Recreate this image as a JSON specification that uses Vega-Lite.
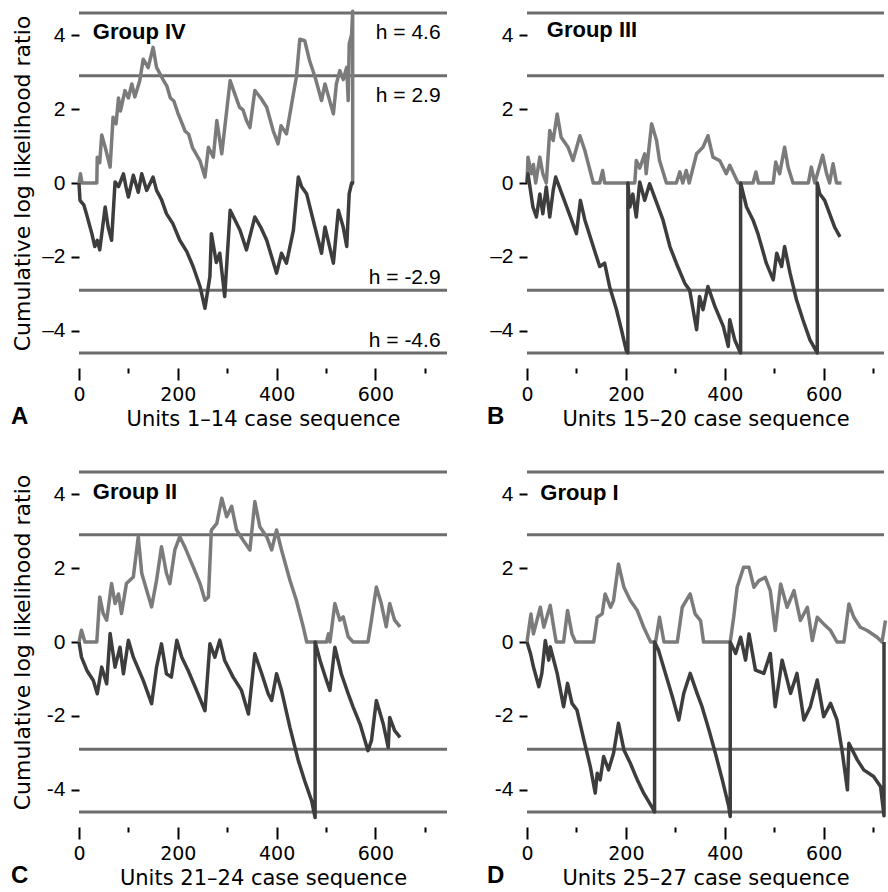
{
"$schema": "https://vega.github.io/schema/vega-lite/v6.json",
"background": "white",
"padding": {"left": 11, "top": 9, "right": 0, "bottom": 0},
"config": {"view": {"stroke": null}, "axisX": {"labelFlush": false}},
"datasets": {
"h": [{"h": 4.6, "t": "h = 4.6"}, {"h": 2.9, "t": "h = 2.9"}, {"h": -2.9, "t": "h = -2.9"}, {"h": -4.6, "t": "h = -4.6"}],
"cs": [
{"p":"A","s":"u","i":0,"x":0,"y":0},{"p":"A","s":"u","i":1,"x":3,"y":0.25},{"p":"A","s":"u","i":2,"x":6,"y":0},{"p":"A","s":"u","i":3,"x":36,"y":0},{"p":"A","s":"u","i":4,"x":37,"y":0.7},{"p":"A","s":"u","i":5,"x":42,"y":0.55},{"p":"A","s":"u","i":6,"x":46,"y":1.3},{"p":"A","s":"u","i":7,"x":53,"y":0.97},{"p":"A","s":"u","i":8,"x":63,"y":0.43},{"p":"A","s":"u","i":9,"x":69,"y":1.78},{"p":"A","s":"u","i":10,"x":75,"y":1.6},{"p":"A","s":"u","i":11,"x":80,"y":2.3},{"p":"A","s":"u","i":12,"x":84,"y":1.95},{"p":"A","s":"u","i":13,"x":93,"y":2.5},{"p":"A","s":"u","i":14,"x":100,"y":2.3},{"p":"A","s":"u","i":15,"x":107,"y":2.68},{"p":"A","s":"u","i":16,"x":113,"y":2.33},{"p":"A","s":"u","i":17,"x":123,"y":2.77},{"p":"A","s":"u","i":18,"x":130,"y":3.35},{"p":"A","s":"u","i":19,"x":140,"y":3.12},{"p":"A","s":"u","i":20,"x":150,"y":3.67},{"p":"A","s":"u","i":21,"x":157,"y":3.13},{"p":"A","s":"u","i":22,"x":170,"y":2.8},{"p":"A","s":"u","i":23,"x":178,"y":2.62},{"p":"A","s":"u","i":24,"x":185,"y":2.3},{"p":"A","s":"u","i":25,"x":192,"y":2.22},{"p":"A","s":"u","i":26,"x":200,"y":1.9},{"p":"A","s":"u","i":27,"x":215,"y":1.4},{"p":"A","s":"u","i":28,"x":222,"y":1.32},{"p":"A","s":"u","i":29,"x":230,"y":0.95},{"p":"A","s":"u","i":30,"x":245,"y":0.6},{"p":"A","s":"u","i":31,"x":255,"y":0.16},{"p":"A","s":"u","i":32,"x":262,"y":0.97},{"p":"A","s":"u","i":33,"x":272,"y":0.7},{"p":"A","s":"u","i":34,"x":279,"y":1.69},{"p":"A","s":"u","i":35,"x":289,"y":0.79},{"p":"A","s":"u","i":36,"x":306,"y":2.77},{"p":"A","s":"u","i":37,"x":313,"y":2.5},{"p":"A","s":"u","i":38,"x":325,"y":2.05},{"p":"A","s":"u","i":39,"x":332,"y":1.98},{"p":"A","s":"u","i":40,"x":339,"y":1.69},{"p":"A","s":"u","i":41,"x":346,"y":1.5},{"p":"A","s":"u","i":42,"x":356,"y":2.5},{"p":"A","s":"u","i":43,"x":368,"y":2.3},{"p":"A","s":"u","i":44,"x":380,"y":2.05},{"p":"A","s":"u","i":45,"x":393,"y":1.42},{"p":"A","s":"u","i":46,"x":403,"y":1.06},{"p":"A","s":"u","i":47,"x":409,"y":1.55},{"p":"A","s":"u","i":48,"x":420,"y":1.33},{"p":"A","s":"u","i":49,"x":434,"y":2.41},{"p":"A","s":"u","i":50,"x":440,"y":2.86},{"p":"A","s":"u","i":51,"x":447,"y":3.89},{"p":"A","s":"u","i":52,"x":457,"y":3.85},{"p":"A","s":"u","i":53,"x":467,"y":3.3},{"p":"A","s":"u","i":54,"x":478,"y":2.86},{"p":"A","s":"u","i":55,"x":491,"y":2.23},{"p":"A","s":"u","i":56,"x":498,"y":2.68},{"p":"A","s":"u","i":57,"x":515,"y":1.87},{"p":"A","s":"u","i":58,"x":521,"y":2.68},{"p":"A","s":"u","i":59,"x":528,"y":3.04},{"p":"A","s":"u","i":60,"x":535,"y":2.8},{"p":"A","s":"u","i":61,"x":542,"y":3.13},{"p":"A","s":"u","i":62,"x":545,"y":2.23},{"p":"A","s":"u","i":63,"x":547,"y":3.76},{"p":"A","s":"u","i":64,"x":552,"y":4.03},{"p":"A","s":"u","i":65,"x":554,"y":4.65},{"p":"A","s":"u","i":66,"x":554,"y":0},
{"p":"A","s":"l","i":0,"x":0,"y":0},{"p":"A","s":"l","i":1,"x":2,"y":-0.47},{"p":"A","s":"l","i":2,"x":10,"y":-0.6},{"p":"A","s":"l","i":3,"x":15,"y":-0.83},{"p":"A","s":"l","i":4,"x":26,"y":-1.37},{"p":"A","s":"l","i":5,"x":32,"y":-1.72},{"p":"A","s":"l","i":6,"x":37,"y":-1.55},{"p":"A","s":"l","i":7,"x":42,"y":-1.81},{"p":"A","s":"l","i":8,"x":53,"y":-0.65},{"p":"A","s":"l","i":9,"x":59,"y":-1.19},{"p":"A","s":"l","i":10,"x":66,"y":-1.55},{"p":"A","s":"l","i":11,"x":73,"y":0.03},{"p":"A","s":"l","i":12,"x":80,"y":-0.1},{"p":"A","s":"l","i":13,"x":90,"y":0.25},{"p":"A","s":"l","i":14,"x":95,"y":-0.1},{"p":"A","s":"l","i":15,"x":100,"y":-0.38},{"p":"A","s":"l","i":16,"x":110,"y":0.21},{"p":"A","s":"l","i":17,"x":120,"y":-0.25},{"p":"A","s":"l","i":18,"x":127,"y":0.25},{"p":"A","s":"l","i":19,"x":137,"y":-0.2},{"p":"A","s":"l","i":20,"x":150,"y":0.16},{"p":"A","s":"l","i":21,"x":157,"y":-0.2},{"p":"A","s":"l","i":22,"x":167,"y":-0.45},{"p":"A","s":"l","i":23,"x":177,"y":-0.83},{"p":"A","s":"l","i":24,"x":190,"y":-1.1},{"p":"A","s":"l","i":25,"x":204,"y":-1.55},{"p":"A","s":"l","i":26,"x":218,"y":-1.85},{"p":"A","s":"l","i":27,"x":231,"y":-2.26},{"p":"A","s":"l","i":28,"x":245,"y":-2.8},{"p":"A","s":"l","i":29,"x":255,"y":-3.39},{"p":"A","s":"l","i":30,"x":265,"y":-2.53},{"p":"A","s":"l","i":31,"x":268,"y":-1.37},{"p":"A","s":"l","i":32,"x":278,"y":-2.15},{"p":"A","s":"l","i":33,"x":285,"y":-1.9},{"p":"A","s":"l","i":34,"x":295,"y":-3.07},{"p":"A","s":"l","i":35,"x":306,"y":-0.74},{"p":"A","s":"l","i":36,"x":326,"y":-1.28},{"p":"A","s":"l","i":37,"x":339,"y":-1.81},{"p":"A","s":"l","i":38,"x":356,"y":-0.92},{"p":"A","s":"l","i":39,"x":368,"y":-1.2},{"p":"A","s":"l","i":40,"x":380,"y":-1.55},{"p":"A","s":"l","i":41,"x":400,"y":-2.44},{"p":"A","s":"l","i":42,"x":410,"y":-1.9},{"p":"A","s":"l","i":43,"x":420,"y":-2.17},{"p":"A","s":"l","i":44,"x":434,"y":-1.28},{"p":"A","s":"l","i":45,"x":444,"y":0.16},{"p":"A","s":"l","i":46,"x":451,"y":-0.11},{"p":"A","s":"l","i":47,"x":461,"y":-0.3},{"p":"A","s":"l","i":48,"x":474,"y":-1.0},{"p":"A","s":"l","i":49,"x":491,"y":-1.9},{"p":"A","s":"l","i":50,"x":498,"y":-1.19},{"p":"A","s":"l","i":51,"x":515,"y":-2.17},{"p":"A","s":"l","i":52,"x":525,"y":-0.74},{"p":"A","s":"l","i":53,"x":535,"y":-1.2},{"p":"A","s":"l","i":54,"x":542,"y":-1.72},{"p":"A","s":"l","i":55,"x":547,"y":-0.29},{"p":"A","s":"l","i":56,"x":552,"y":0},{"p":"A","s":"l","i":57,"x":557,"y":0},
{"p":"B","s":"u","i":0,"x":0,"y":0},{"p":"B","s":"u","i":1,"x":2,"y":0.7},{"p":"B","s":"u","i":2,"x":9,"y":0.25},{"p":"B","s":"u","i":3,"x":13,"y":0.5},{"p":"B","s":"u","i":4,"x":17.5,"y":0},{"p":"B","s":"u","i":5,"x":26,"y":0.7},{"p":"B","s":"u","i":6,"x":32,"y":0.25},{"p":"B","s":"u","i":7,"x":39,"y":0},{"p":"B","s":"u","i":8,"x":46,"y":1.42},{"p":"B","s":"u","i":9,"x":53,"y":1.15},{"p":"B","s":"u","i":10,"x":61,"y":1.87},{"p":"B","s":"u","i":11,"x":69,"y":1.24},{"p":"B","s":"u","i":12,"x":83,"y":0.97},{"p":"B","s":"u","i":13,"x":93,"y":0.61},{"p":"B","s":"u","i":14,"x":107,"y":1.28},{"p":"B","s":"u","i":15,"x":117,"y":0.88},{"p":"B","s":"u","i":16,"x":134,"y":0},{"p":"B","s":"u","i":17,"x":147,"y":0},{"p":"B","s":"u","i":18,"x":153,"y":0.34},{"p":"B","s":"u","i":19,"x":157,"y":0},{"p":"B","s":"u","i":20,"x":218,"y":0},{"p":"B","s":"u","i":21,"x":221,"y":0.61},{"p":"B","s":"u","i":22,"x":228,"y":0.4},{"p":"B","s":"u","i":23,"x":238,"y":0.79},{"p":"B","s":"u","i":24,"x":241,"y":0.25},{"p":"B","s":"u","i":25,"x":252,"y":1.6},{"p":"B","s":"u","i":26,"x":262,"y":1.15},{"p":"B","s":"u","i":27,"x":268,"y":0.61},{"p":"B","s":"u","i":28,"x":282,"y":0},{"p":"B","s":"u","i":29,"x":302,"y":0},{"p":"B","s":"u","i":30,"x":309,"y":0.3},{"p":"B","s":"u","i":31,"x":315,"y":0},{"p":"B","s":"u","i":32,"x":322,"y":0.34},{"p":"B","s":"u","i":33,"x":328,"y":0},{"p":"B","s":"u","i":34,"x":343,"y":0.79},{"p":"B","s":"u","i":35,"x":356,"y":0.97},{"p":"B","s":"u","i":36,"x":366,"y":1.28},{"p":"B","s":"u","i":37,"x":376,"y":0.7},{"p":"B","s":"u","i":38,"x":390,"y":0.6},{"p":"B","s":"u","i":39,"x":403,"y":0.25},{"p":"B","s":"u","i":40,"x":410,"y":0.48},{"p":"B","s":"u","i":41,"x":427,"y":0},{"p":"B","s":"u","i":42,"x":457,"y":0},{"p":"B","s":"u","i":43,"x":463,"y":0.3},{"p":"B","s":"u","i":44,"x":468,"y":0},{"p":"B","s":"u","i":45,"x":498,"y":0},{"p":"B","s":"u","i":46,"x":503,"y":0.57},{"p":"B","s":"u","i":47,"x":511,"y":0.25},{"p":"B","s":"u","i":48,"x":521,"y":0.97},{"p":"B","s":"u","i":49,"x":528,"y":0.43},{"p":"B","s":"u","i":50,"x":538,"y":0},{"p":"B","s":"u","i":51,"x":569,"y":0},{"p":"B","s":"u","i":52,"x":575,"y":0.43},{"p":"B","s":"u","i":53,"x":582,"y":0},{"p":"B","s":"u","i":54,"x":598,"y":0.75},{"p":"B","s":"u","i":55,"x":606,"y":0.25},{"p":"B","s":"u","i":56,"x":612,"y":0},{"p":"B","s":"u","i":57,"x":619,"y":0.52},{"p":"B","s":"u","i":58,"x":626,"y":0},{"p":"B","s":"u","i":59,"x":636,"y":0},
{"p":"B","s":"l","i":0,"x":0,"y":0},{"p":"B","s":"l","i":1,"x":2,"y":0.25},{"p":"B","s":"l","i":2,"x":12,"y":-0.65},{"p":"B","s":"l","i":3,"x":19,"y":-0.92},{"p":"B","s":"l","i":4,"x":26,"y":-0.3},{"p":"B","s":"l","i":5,"x":32,"y":-0.83},{"p":"B","s":"l","i":6,"x":39,"y":-0.11},{"p":"B","s":"l","i":7,"x":46,"y":-0.92},{"p":"B","s":"l","i":8,"x":53,"y":-0.2},{"p":"B","s":"l","i":9,"x":58,"y":0.16},{"p":"B","s":"l","i":10,"x":73,"y":-0.38},{"p":"B","s":"l","i":11,"x":90,"y":-1.0},{"p":"B","s":"l","i":12,"x":100,"y":-1.37},{"p":"B","s":"l","i":13,"x":108,"y":-0.47},{"p":"B","s":"l","i":14,"x":117,"y":-1.0},{"p":"B","s":"l","i":15,"x":134,"y":-1.72},{"p":"B","s":"l","i":16,"x":147,"y":-2.26},{"p":"B","s":"l","i":17,"x":157,"y":-2.17},{"p":"B","s":"l","i":18,"x":167,"y":-2.8},{"p":"B","s":"l","i":19,"x":181,"y":-3.43},{"p":"B","s":"l","i":20,"x":191,"y":-3.97},{"p":"B","s":"l","i":21,"x":201,"y":-4.55},{"p":"B","s":"l","i":22,"x":204,"y":-4.6},{"p":"B","s":"l","i":23,"x":204,"y":0},{"p":"B","s":"l","i":24,"x":208,"y":-0.65},{"p":"B","s":"l","i":25,"x":214,"y":-0.3},{"p":"B","s":"l","i":26,"x":221,"y":-0.92},{"p":"B","s":"l","i":27,"x":228,"y":0.03},{"p":"B","s":"l","i":28,"x":238,"y":-0.47},{"p":"B","s":"l","i":29,"x":248,"y":-0.02},{"p":"B","s":"l","i":30,"x":258,"y":-0.38},{"p":"B","s":"l","i":31,"x":275,"y":-1.0},{"p":"B","s":"l","i":32,"x":289,"y":-1.72},{"p":"B","s":"l","i":33,"x":302,"y":-2.17},{"p":"B","s":"l","i":34,"x":319,"y":-2.71},{"p":"B","s":"l","i":35,"x":329,"y":-2.9},{"p":"B","s":"l","i":36,"x":343,"y":-3.97},{"p":"B","s":"l","i":37,"x":349,"y":-3.07},{"p":"B","s":"l","i":38,"x":356,"y":-3.43},{"p":"B","s":"l","i":39,"x":366,"y":-2.8},{"p":"B","s":"l","i":40,"x":380,"y":-3.34},{"p":"B","s":"l","i":41,"x":397,"y":-3.88},{"p":"B","s":"l","i":42,"x":407,"y":-4.42},{"p":"B","s":"l","i":43,"x":410,"y":-3.7},{"p":"B","s":"l","i":44,"x":420,"y":-4.24},{"p":"B","s":"l","i":45,"x":430,"y":-4.55},{"p":"B","s":"l","i":46,"x":432,"y":-4.6},{"p":"B","s":"l","i":47,"x":432,"y":0},{"p":"B","s":"l","i":48,"x":444,"y":-0.65},{"p":"B","s":"l","i":49,"x":457,"y":-1.0},{"p":"B","s":"l","i":50,"x":467,"y":-1.37},{"p":"B","s":"l","i":51,"x":484,"y":-2.17},{"p":"B","s":"l","i":52,"x":498,"y":-2.62},{"p":"B","s":"l","i":53,"x":505,"y":-1.9},{"p":"B","s":"l","i":54,"x":515,"y":-2.26},{"p":"B","s":"l","i":55,"x":521,"y":-1.72},{"p":"B","s":"l","i":56,"x":532,"y":-2.44},{"p":"B","s":"l","i":57,"x":545,"y":-3.16},{"p":"B","s":"l","i":58,"x":558,"y":-3.7},{"p":"B","s":"l","i":59,"x":572,"y":-4.24},{"p":"B","s":"l","i":60,"x":585,"y":-4.55},{"p":"B","s":"l","i":61,"x":587,"y":-4.6},{"p":"B","s":"l","i":62,"x":587,"y":0},{"p":"B","s":"l","i":63,"x":592,"y":-0.29},{"p":"B","s":"l","i":64,"x":602,"y":-0.47},{"p":"B","s":"l","i":65,"x":612,"y":-0.83},{"p":"B","s":"l","i":66,"x":622,"y":-1.19},{"p":"B","s":"l","i":67,"x":633,"y":-1.46},
{"p":"C","s":"u","i":0,"x":0,"y":0},{"p":"C","s":"u","i":1,"x":5,"y":0.32},{"p":"C","s":"u","i":2,"x":12,"y":0},{"p":"C","s":"u","i":3,"x":36,"y":0},{"p":"C","s":"u","i":4,"x":42,"y":1.22},{"p":"C","s":"u","i":5,"x":49,"y":0.77},{"p":"C","s":"u","i":6,"x":56,"y":0.59},{"p":"C","s":"u","i":7,"x":66,"y":1.58},{"p":"C","s":"u","i":8,"x":73,"y":1.04},{"p":"C","s":"u","i":9,"x":80,"y":1.3},{"p":"C","s":"u","i":10,"x":86,"y":0.77},{"p":"C","s":"u","i":11,"x":96,"y":1.58},{"p":"C","s":"u","i":12,"x":110,"y":1.76},{"p":"C","s":"u","i":13,"x":120,"y":2.85},{"p":"C","s":"u","i":14,"x":127,"y":1.86},{"p":"C","s":"u","i":15,"x":137,"y":1.4},{"p":"C","s":"u","i":16,"x":147,"y":0.95},{"p":"C","s":"u","i":17,"x":157,"y":1.67},{"p":"C","s":"u","i":18,"x":167,"y":2.58},{"p":"C","s":"u","i":19,"x":177,"y":1.86},{"p":"C","s":"u","i":20,"x":184,"y":1.58},{"p":"C","s":"u","i":21,"x":194,"y":2.49},{"p":"C","s":"u","i":22,"x":204,"y":2.85},{"p":"C","s":"u","i":23,"x":214,"y":2.58},{"p":"C","s":"u","i":24,"x":231,"y":2.04},{"p":"C","s":"u","i":25,"x":245,"y":1.58},{"p":"C","s":"u","i":26,"x":255,"y":1.13},{"p":"C","s":"u","i":27,"x":262,"y":1.22},{"p":"C","s":"u","i":28,"x":268,"y":3.03},{"p":"C","s":"u","i":29,"x":279,"y":3.21},{"p":"C","s":"u","i":30,"x":289,"y":3.89},{"p":"C","s":"u","i":31,"x":299,"y":3.39},{"p":"C","s":"u","i":32,"x":309,"y":3.67},{"p":"C","s":"u","i":33,"x":319,"y":3.03},{"p":"C","s":"u","i":34,"x":332,"y":2.76},{"p":"C","s":"u","i":35,"x":346,"y":2.49},{"p":"C","s":"u","i":36,"x":356,"y":3.8},{"p":"C","s":"u","i":37,"x":366,"y":3.12},{"p":"C","s":"u","i":38,"x":380,"y":2.85},{"p":"C","s":"u","i":39,"x":390,"y":2.49},{"p":"C","s":"u","i":40,"x":400,"y":3.03},{"p":"C","s":"u","i":41,"x":410,"y":2.49},{"p":"C","s":"u","i":42,"x":427,"y":1.67},{"p":"C","s":"u","i":43,"x":440,"y":1.13},{"p":"C","s":"u","i":44,"x":454,"y":0.41},{"p":"C","s":"u","i":45,"x":461,"y":0},{"p":"C","s":"u","i":46,"x":501,"y":0},{"p":"C","s":"u","i":47,"x":505,"y":0.22},{"p":"C","s":"u","i":48,"x":508,"y":0},{"p":"C","s":"u","i":49,"x":518,"y":1.04},{"p":"C","s":"u","i":50,"x":528,"y":0.59},{"p":"C","s":"u","i":51,"x":535,"y":0.68},{"p":"C","s":"u","i":52,"x":545,"y":0.14},{"p":"C","s":"u","i":53,"x":555,"y":0},{"p":"C","s":"u","i":54,"x":585,"y":0},{"p":"C","s":"u","i":55,"x":592,"y":0.59},{"p":"C","s":"u","i":56,"x":602,"y":1.49},{"p":"C","s":"u","i":57,"x":612,"y":1.04},{"p":"C","s":"u","i":58,"x":622,"y":0.41},{"p":"C","s":"u","i":59,"x":629,"y":1.04},{"p":"C","s":"u","i":60,"x":639,"y":0.59},{"p":"C","s":"u","i":61,"x":650,"y":0.41},
{"p":"C","s":"l","i":0,"x":0,"y":0},{"p":"C","s":"l","i":1,"x":5,"y":-0.41},{"p":"C","s":"l","i":2,"x":16,"y":-0.77},{"p":"C","s":"l","i":3,"x":29,"y":-1.04},{"p":"C","s":"l","i":4,"x":37,"y":-1.4},{"p":"C","s":"l","i":5,"x":46,"y":-0.68},{"p":"C","s":"l","i":6,"x":56,"y":-1.13},{"p":"C","s":"l","i":7,"x":63,"y":0.23},{"p":"C","s":"l","i":8,"x":73,"y":-0.68},{"p":"C","s":"l","i":9,"x":83,"y":-0.14},{"p":"C","s":"l","i":10,"x":90,"y":-0.86},{"p":"C","s":"l","i":11,"x":100,"y":0.05},{"p":"C","s":"l","i":12,"x":110,"y":-0.41},{"p":"C","s":"l","i":13,"x":130,"y":-1.04},{"p":"C","s":"l","i":14,"x":147,"y":-1.67},{"p":"C","s":"l","i":15,"x":157,"y":-0.68},{"p":"C","s":"l","i":16,"x":167,"y":-0.05},{"p":"C","s":"l","i":17,"x":177,"y":-0.86},{"p":"C","s":"l","i":18,"x":187,"y":-0.95},{"p":"C","s":"l","i":19,"x":198,"y":0.05},{"p":"C","s":"l","i":20,"x":208,"y":-0.41},{"p":"C","s":"l","i":21,"x":221,"y":-0.77},{"p":"C","s":"l","i":22,"x":238,"y":-1.31},{"p":"C","s":"l","i":23,"x":255,"y":-1.86},{"p":"C","s":"l","i":24,"x":265,"y":-0.05},{"p":"C","s":"l","i":25,"x":275,"y":-0.41},{"p":"C","s":"l","i":26,"x":285,"y":0.05},{"p":"C","s":"l","i":27,"x":295,"y":-0.5},{"p":"C","s":"l","i":28,"x":312,"y":-0.95},{"p":"C","s":"l","i":29,"x":329,"y":-1.31},{"p":"C","s":"l","i":30,"x":343,"y":-1.95},{"p":"C","s":"l","i":31,"x":356,"y":-0.32},{"p":"C","s":"l","i":32,"x":370,"y":-0.86},{"p":"C","s":"l","i":33,"x":383,"y":-1.4},{"p":"C","s":"l","i":34,"x":390,"y":-1.58},{"p":"C","s":"l","i":35,"x":400,"y":-0.86},{"p":"C","s":"l","i":36,"x":410,"y":-1.31},{"p":"C","s":"l","i":37,"x":427,"y":-2.31},{"p":"C","s":"l","i":38,"x":444,"y":-3.21},{"p":"C","s":"l","i":39,"x":457,"y":-3.76},{"p":"C","s":"l","i":40,"x":471,"y":-4.3},{"p":"C","s":"l","i":41,"x":478,"y":-4.75},{"p":"C","s":"l","i":42,"x":478,"y":0},{"p":"C","s":"l","i":43,"x":488,"y":-0.5},{"p":"C","s":"l","i":44,"x":501,"y":-1.04},{"p":"C","s":"l","i":45,"x":508,"y":-1.31},{"p":"C","s":"l","i":46,"x":518,"y":-0.14},{"p":"C","s":"l","i":47,"x":531,"y":-0.86},{"p":"C","s":"l","i":48,"x":545,"y":-1.4},{"p":"C","s":"l","i":49,"x":555,"y":-1.76},{"p":"C","s":"l","i":50,"x":569,"y":-2.22},{"p":"C","s":"l","i":51,"x":585,"y":-2.94},{"p":"C","s":"l","i":52,"x":592,"y":-2.67},{"p":"C","s":"l","i":53,"x":602,"y":-1.58},{"p":"C","s":"l","i":54,"x":616,"y":-2.22},{"p":"C","s":"l","i":55,"x":626,"y":-2.85},{"p":"C","s":"l","i":56,"x":629,"y":-2.04},{"p":"C","s":"l","i":57,"x":639,"y":-2.4},{"p":"C","s":"l","i":58,"x":650,"y":-2.58},
{"p":"D","s":"u","i":0,"x":0,"y":0},{"p":"D","s":"u","i":1,"x":8,"y":0.76},{"p":"D","s":"u","i":2,"x":13,"y":0.22},{"p":"D","s":"u","i":3,"x":20,"y":0.58},{"p":"D","s":"u","i":4,"x":27,"y":0.94},{"p":"D","s":"u","i":5,"x":34,"y":0.4},{"p":"D","s":"u","i":6,"x":47,"y":0.99},{"p":"D","s":"u","i":7,"x":54,"y":0.4},{"p":"D","s":"u","i":8,"x":59,"y":0},{"p":"D","s":"u","i":9,"x":74,"y":0},{"p":"D","s":"u","i":10,"x":82,"y":0.85},{"p":"D","s":"u","i":11,"x":91,"y":0.22},{"p":"D","s":"u","i":12,"x":98,"y":0},{"p":"D","s":"u","i":13,"x":135,"y":0},{"p":"D","s":"u","i":14,"x":142,"y":0.67},{"p":"D","s":"u","i":15,"x":152,"y":0.76},{"p":"D","s":"u","i":16,"x":158,"y":1.3},{"p":"D","s":"u","i":17,"x":169,"y":0.94},{"p":"D","s":"u","i":18,"x":175,"y":1.12},{"p":"D","s":"u","i":19,"x":185,"y":2.11},{"p":"D","s":"u","i":20,"x":196,"y":1.48},{"p":"D","s":"u","i":21,"x":209,"y":1.12},{"p":"D","s":"u","i":22,"x":223,"y":0.85},{"p":"D","s":"u","i":23,"x":236,"y":0.4},{"p":"D","s":"u","i":24,"x":250,"y":0},{"p":"D","s":"u","i":25,"x":260,"y":0},{"p":"D","s":"u","i":26,"x":268,"y":0.67},{"p":"D","s":"u","i":27,"x":277,"y":0},{"p":"D","s":"u","i":28,"x":304,"y":0},{"p":"D","s":"u","i":29,"x":314,"y":0.94},{"p":"D","s":"u","i":30,"x":330,"y":1.3},{"p":"D","s":"u","i":31,"x":340,"y":0.76},{"p":"D","s":"u","i":32,"x":351,"y":0.58},{"p":"D","s":"u","i":33,"x":357,"y":0},{"p":"D","s":"u","i":34,"x":411,"y":0},{"p":"D","s":"u","i":35,"x":418,"y":0.67},{"p":"D","s":"u","i":36,"x":425,"y":1.48},{"p":"D","s":"u","i":37,"x":438,"y":2.02},{"p":"D","s":"u","i":38,"x":449,"y":2.02},{"p":"D","s":"u","i":39,"x":459,"y":1.48},{"p":"D","s":"u","i":40,"x":469,"y":1.66},{"p":"D","s":"u","i":41,"x":482,"y":1.75},{"p":"D","s":"u","i":42,"x":492,"y":1.39},{"p":"D","s":"u","i":43,"x":502,"y":0.31},{"p":"D","s":"u","i":44,"x":513,"y":1.57},{"p":"D","s":"u","i":45,"x":526,"y":0.94},{"p":"D","s":"u","i":46,"x":540,"y":1.39},{"p":"D","s":"u","i":47,"x":553,"y":0.58},{"p":"D","s":"u","i":48,"x":567,"y":0.94},{"p":"D","s":"u","i":49,"x":577,"y":0.04},{"p":"D","s":"u","i":50,"x":587,"y":0.67},{"p":"D","s":"u","i":51,"x":600,"y":0.49},{"p":"D","s":"u","i":52,"x":614,"y":0.31},{"p":"D","s":"u","i":53,"x":627,"y":0},{"p":"D","s":"u","i":54,"x":641,"y":0},{"p":"D","s":"u","i":55,"x":651,"y":1.03},{"p":"D","s":"u","i":56,"x":661,"y":0.67},{"p":"D","s":"u","i":57,"x":674,"y":0.4},{"p":"D","s":"u","i":58,"x":688,"y":0.31},{"p":"D","s":"u","i":59,"x":708,"y":0.13},{"p":"D","s":"u","i":60,"x":718,"y":0},{"p":"D","s":"u","i":61,"x":725,"y":0.58},
{"p":"D","s":"l","i":0,"x":0,"y":0},{"p":"D","s":"l","i":1,"x":7,"y":-0.31},{"p":"D","s":"l","i":2,"x":13,"y":-0.67},{"p":"D","s":"l","i":3,"x":24,"y":-1.21},{"p":"D","s":"l","i":4,"x":30,"y":-0.85},{"p":"D","s":"l","i":5,"x":37,"y":0.04},{"p":"D","s":"l","i":6,"x":44,"y":-0.49},{"p":"D","s":"l","i":7,"x":47,"y":-0.13},{"p":"D","s":"l","i":8,"x":61,"y":-0.85},{"p":"D","s":"l","i":9,"x":74,"y":-1.75},{"p":"D","s":"l","i":10,"x":82,"y":-1.12},{"p":"D","s":"l","i":11,"x":91,"y":-1.66},{"p":"D","s":"l","i":12,"x":101,"y":-1.84},{"p":"D","s":"l","i":13,"x":115,"y":-2.65},{"p":"D","s":"l","i":14,"x":128,"y":-3.37},{"p":"D","s":"l","i":15,"x":138,"y":-4.09},{"p":"D","s":"l","i":16,"x":142,"y":-3.55},{"p":"D","s":"l","i":17,"x":148,"y":-3.73},{"p":"D","s":"l","i":18,"x":155,"y":-3.1},{"p":"D","s":"l","i":19,"x":165,"y":-3.46},{"p":"D","s":"l","i":20,"x":175,"y":-3.01},{"p":"D","s":"l","i":21,"x":185,"y":-2.2},{"p":"D","s":"l","i":22,"x":196,"y":-2.92},{"p":"D","s":"l","i":23,"x":209,"y":-3.28},{"p":"D","s":"l","i":24,"x":223,"y":-3.73},{"p":"D","s":"l","i":25,"x":236,"y":-4.09},{"p":"D","s":"l","i":26,"x":256,"y":-4.54},{"p":"D","s":"l","i":27,"x":258,"y":-4.6},{"p":"D","s":"l","i":28,"x":258,"y":0},{"p":"D","s":"l","i":29,"x":266,"y":-0.22},{"p":"D","s":"l","i":30,"x":280,"y":-0.85},{"p":"D","s":"l","i":31,"x":294,"y":-1.48},{"p":"D","s":"l","i":32,"x":307,"y":-2.11},{"p":"D","s":"l","i":33,"x":317,"y":-1.39},{"p":"D","s":"l","i":34,"x":330,"y":-0.85},{"p":"D","s":"l","i":35,"x":344,"y":-1.39},{"p":"D","s":"l","i":36,"x":354,"y":-1.75},{"p":"D","s":"l","i":37,"x":368,"y":-2.38},{"p":"D","s":"l","i":38,"x":381,"y":-3.01},{"p":"D","s":"l","i":39,"x":395,"y":-3.73},{"p":"D","s":"l","i":40,"x":408,"y":-4.45},{"p":"D","s":"l","i":41,"x":411,"y":-4.72},{"p":"D","s":"l","i":42,"x":411,"y":0},{"p":"D","s":"l","i":43,"x":422,"y":-0.31},{"p":"D","s":"l","i":44,"x":432,"y":0.13},{"p":"D","s":"l","i":45,"x":442,"y":-0.49},{"p":"D","s":"l","i":46,"x":449,"y":0.22},{"p":"D","s":"l","i":47,"x":462,"y":-0.76},{"p":"D","s":"l","i":48,"x":479,"y":-0.85},{"p":"D","s":"l","i":49,"x":492,"y":-0.31},{"p":"D","s":"l","i":50,"x":502,"y":-1.75},{"p":"D","s":"l","i":51,"x":516,"y":-0.49},{"p":"D","s":"l","i":52,"x":533,"y":-1.39},{"p":"D","s":"l","i":53,"x":546,"y":-0.85},{"p":"D","s":"l","i":54,"x":560,"y":-2.11},{"p":"D","s":"l","i":55,"x":573,"y":-1.75},{"p":"D","s":"l","i":56,"x":587,"y":-1.03},{"p":"D","s":"l","i":57,"x":600,"y":-2.02},{"p":"D","s":"l","i":58,"x":614,"y":-1.66},{"p":"D","s":"l","i":59,"x":627,"y":-2.11},{"p":"D","s":"l","i":60,"x":637,"y":-2.92},{"p":"D","s":"l","i":61,"x":648,"y":-4.0},{"p":"D","s":"l","i":62,"x":651,"y":-2.74},{"p":"D","s":"l","i":63,"x":668,"y":-3.19},{"p":"D","s":"l","i":64,"x":681,"y":-3.46},{"p":"D","s":"l","i":65,"x":701,"y":-3.64},{"p":"D","s":"l","i":66,"x":715,"y":-3.91},{"p":"D","s":"l","i":67,"x":722,"y":-4.7},{"p":"D","s":"l","i":68,"x":722,"y":0}
]
},
"columns": 2,
"align": "each",
"spacing": {"row": 41, "column": 38},
"concat": [
{
"width": 368, "height": 340,
"title": {"text": "A", "orient": "bottom", "anchor": "start", "frame": "bounds", "font": "Liberation Sans", "fontSize": 24, "fontWeight": "bold", "color": "#000", "offset": -24},
"layer": [
{"data": {"name": "h"}, "mark": {"type": "rule", "color": "#6d6d6d", "strokeWidth": 3},
 "encoding": {"y": {"field": "h", "type": "quantitative", "scale": {"domain": [-4.6, 4.6], "nice": false, "zero": false},
   "axis": {"values": [-4,-2,0,2,4], "labelExpr": "datum.value < 0 ? '–' + (-datum.value) : '' + datum.value", "domain": false, "grid": false, "tickSize": 8, "tickWidth": 2, "tickColor": "#000", "labelFont": "Liberation Sans", "labelFontSize": 21, "labelColor": "#000", "labelPadding": 6, "minExtent": 40, "maxExtent": 40, "title": "Cumulative log likelihood ratio", "titleFont": "DejaVu Sans", "titleFontSize": 22, "titleFontWeight": "normal", "titleColor": "#000", "titlePadding": 5}}}},
{"data": {"name": "cs"}, "transform": [{"filter": "datum.p === 'A'"}],
 "mark": {"type": "line", "strokeWidth": 3.5, "strokeJoin": "round"},
 "encoding": {
  "x": {"field": "x", "type": "quantitative", "scale": {"domain": [0, 745], "nice": false, "zero": false},
   "axis": {"values": [0,100,200,300,400,500,600,700], "labelExpr": "datum.value % 200 === 0 ? datum.label : ''", "labelFlush": false, "domain": false, "grid": false, "offset": 15, "tickSize": {"condition": {"test": "datum.value % 200 === 0", "value": 12}, "value": 5}, "tickColor": "#000", "tickWidth": 2, "labelFont": "DejaVu Sans", "labelFontSize": 19, "labelColor": "#000", "labelPadding": 5, "title": "Units 1–14 case sequence", "titleFont": "DejaVu Sans", "titleFontSize": 21, "titleFontWeight": "normal", "titleColor": "#000", "titlePadding": 4}},
  "y": {"field": "y", "type": "quantitative"},
  "color": {"field": "s", "type": "nominal", "scale": {"domain": ["u", "l"], "range": ["#7b7b7b", "#3d3d3d"]}, "legend": null},
  "order": {"field": "i", "type": "quantitative"}}},
{"data": {"values": [{}]}, "mark": {"type": "text", "text": "Group IV", "font": "Liberation Sans", "fontSize": 22, "fontWeight": "bold", "align": "left", "baseline": "alphabetic", "color": "#000"},
 "encoding": {"x": {"datum": 28, "type": "quantitative"}, "y": {"datum": 3.9, "type": "quantitative"}}},
{"data": {"name": "h"}, "transform": [{"filter": "datum.h > 0"}], "mark": {"type": "text", "font": "Liberation Sans", "fontSize": 21, "align": "right", "baseline": "top", "dy": 9, "color": "#000"},
 "encoding": {"x": {"datum": 732, "type": "quantitative"}, "y": {"field": "h", "type": "quantitative"}, "text": {"field": "t"}}},
{"data": {"name": "h"}, "transform": [{"filter": "datum.h < 0"}], "mark": {"type": "text", "font": "Liberation Sans", "fontSize": 21, "align": "right", "baseline": "alphabetic", "dy": -6, "color": "#000"},
 "encoding": {"x": {"datum": 732, "type": "quantitative"}, "y": {"field": "h", "type": "quantitative"}, "text": {"field": "t"}}}
]
},
{
"width": 357, "height": 340,
"title": {"text": "B", "orient": "bottom", "anchor": "start", "frame": "bounds", "font": "Liberation Sans", "fontSize": 24, "fontWeight": "bold", "color": "#000", "offset": -24},
"layer": [
{"data": {"name": "h"}, "mark": {"type": "rule", "color": "#6d6d6d", "strokeWidth": 3},
 "encoding": {"y": {"field": "h", "type": "quantitative", "scale": {"domain": [-4.6, 4.6], "nice": false, "zero": false},
   "axis": {"values": [-4,-2,0,2,4], "labelExpr": "datum.value < 0 ? '–' + (-datum.value) : '' + datum.value", "domain": false, "grid": false, "tickSize": 8, "tickWidth": 2, "tickColor": "#000", "labelFont": "Liberation Sans", "labelFontSize": 21, "labelColor": "#000", "labelPadding": 6, "minExtent": 40, "maxExtent": 40, "title": null}}}},
{"data": {"name": "cs"}, "transform": [{"filter": "datum.p === 'B'"}],
 "mark": {"type": "line", "strokeWidth": 3.5, "strokeJoin": "round"},
 "encoding": {
  "x": {"field": "x", "type": "quantitative", "scale": {"domain": [0, 722], "nice": false, "zero": false},
   "axis": {"values": [0,100,200,300,400,500,600,700], "labelExpr": "datum.value % 200 === 0 ? datum.label : ''", "labelFlush": false, "domain": false, "grid": false, "offset": 15, "tickSize": {"condition": {"test": "datum.value % 200 === 0", "value": 12}, "value": 5}, "tickColor": "#000", "tickWidth": 2, "labelFont": "DejaVu Sans", "labelFontSize": 19, "labelColor": "#000", "labelPadding": 5, "title": "Units 15–20 case sequence", "titleFont": "DejaVu Sans", "titleFontSize": 21, "titleFontWeight": "normal", "titleColor": "#000", "titlePadding": 4}},
  "y": {"field": "y", "type": "quantitative"},
  "color": {"field": "s", "type": "nominal", "scale": {"domain": ["u", "l"], "range": ["#7b7b7b", "#3d3d3d"]}, "legend": null},
  "order": {"field": "i", "type": "quantitative"}}},
{"data": {"values": [{}]}, "mark": {"type": "text", "text": "Group III", "font": "Liberation Sans", "fontSize": 22, "fontWeight": "bold", "align": "left", "baseline": "alphabetic", "color": "#000"},
 "encoding": {"x": {"datum": 40, "type": "quantitative"}, "y": {"datum": 3.95, "type": "quantitative"}}}
]
},
{
"width": 368, "height": 340,
"title": {"text": "C", "orient": "bottom", "anchor": "start", "frame": "bounds", "font": "Liberation Sans", "fontSize": 24, "fontWeight": "bold", "color": "#000", "offset": -24},
"layer": [
{"data": {"name": "h"}, "mark": {"type": "rule", "color": "#6d6d6d", "strokeWidth": 3},
 "encoding": {"y": {"field": "h", "type": "quantitative", "scale": {"domain": [-4.6, 4.6], "nice": false, "zero": false},
   "axis": {"values": [-4,-2,0,2,4], "labelExpr": "datum.value < 0 ? '-' + (-datum.value) : '' + datum.value", "domain": false, "grid": false, "tickSize": 8, "tickWidth": 2, "tickColor": "#000", "labelFont": "Liberation Sans", "labelFontSize": 21, "labelColor": "#000", "labelPadding": 6, "minExtent": 40, "maxExtent": 40, "title": "Cumulative log likelihood ratio", "titleFont": "DejaVu Sans", "titleFontSize": 22, "titleFontWeight": "normal", "titleColor": "#000", "titlePadding": 5}}}},
{"data": {"name": "cs"}, "transform": [{"filter": "datum.p === 'C'"}],
 "mark": {"type": "line", "strokeWidth": 3.5, "strokeJoin": "round"},
 "encoding": {
  "x": {"field": "x", "type": "quantitative", "scale": {"domain": [0, 745], "nice": false, "zero": false},
   "axis": {"values": [0,100,200,300,400,500,600,700], "labelExpr": "datum.value % 200 === 0 ? datum.label : ''", "labelFlush": false, "domain": false, "grid": false, "offset": 15, "tickSize": {"condition": {"test": "datum.value % 200 === 0", "value": 12}, "value": 5}, "tickColor": "#000", "tickWidth": 2, "labelFont": "DejaVu Sans", "labelFontSize": 19, "labelColor": "#000", "labelPadding": 5, "title": "Units 21–24 case sequence", "titleFont": "DejaVu Sans", "titleFontSize": 21, "titleFontWeight": "normal", "titleColor": "#000", "titlePadding": 4}},
  "y": {"field": "y", "type": "quantitative"},
  "color": {"field": "s", "type": "nominal", "scale": {"domain": ["u", "l"], "range": ["#7b7b7b", "#3d3d3d"]}, "legend": null},
  "order": {"field": "i", "type": "quantitative"}}},
{"data": {"values": [{}]}, "mark": {"type": "text", "text": "Group II", "font": "Liberation Sans", "fontSize": 22, "fontWeight": "bold", "align": "left", "baseline": "alphabetic", "color": "#000"},
 "encoding": {"x": {"datum": 28, "type": "quantitative"}, "y": {"datum": 3.88, "type": "quantitative"}}}
]
},
{
"width": 357, "height": 340,
"title": {"text": "D", "orient": "bottom", "anchor": "start", "frame": "bounds", "font": "Liberation Sans", "fontSize": 24, "fontWeight": "bold", "color": "#000", "offset": -24},
"layer": [
{"data": {"name": "h"}, "mark": {"type": "rule", "color": "#6d6d6d", "strokeWidth": 3},
 "encoding": {"y": {"field": "h", "type": "quantitative", "scale": {"domain": [-4.6, 4.6], "nice": false, "zero": false},
   "axis": {"values": [-4,-2,0,2,4], "labelExpr": "datum.value < 0 ? '-' + (-datum.value) : '' + datum.value", "domain": false, "grid": false, "tickSize": 8, "tickWidth": 2, "tickColor": "#000", "labelFont": "Liberation Sans", "labelFontSize": 21, "labelColor": "#000", "labelPadding": 6, "minExtent": 40, "maxExtent": 40, "title": null}}}},
{"data": {"name": "cs"}, "transform": [{"filter": "datum.p === 'D'"}],
 "mark": {"type": "line", "strokeWidth": 3.5, "strokeJoin": "round"},
 "encoding": {
  "x": {"field": "x", "type": "quantitative", "scale": {"domain": [0, 722], "nice": false, "zero": false},
   "axis": {"values": [0,100,200,300,400,500,600,700], "labelExpr": "datum.value % 200 === 0 ? datum.label : ''", "labelFlush": false, "domain": false, "grid": false, "offset": 15, "tickSize": {"condition": {"test": "datum.value % 200 === 0", "value": 12}, "value": 5}, "tickColor": "#000", "tickWidth": 2, "labelFont": "DejaVu Sans", "labelFontSize": 19, "labelColor": "#000", "labelPadding": 5, "title": "Units 25–27 case sequence", "titleFont": "DejaVu Sans", "titleFontSize": 21, "titleFontWeight": "normal", "titleColor": "#000", "titlePadding": 4}},
  "y": {"field": "y", "type": "quantitative"},
  "color": {"field": "s", "type": "nominal", "scale": {"domain": ["u", "l"], "range": ["#7b7b7b", "#3d3d3d"]}, "legend": null},
  "order": {"field": "i", "type": "quantitative"}}},
{"data": {"values": [{}]}, "mark": {"type": "text", "text": "Group I", "font": "Liberation Sans", "fontSize": 22, "fontWeight": "bold", "align": "left", "baseline": "alphabetic", "color": "#000"},
 "encoding": {"x": {"datum": 27, "type": "quantitative"}, "y": {"datum": 3.85, "type": "quantitative"}}}
]
}
]
}
